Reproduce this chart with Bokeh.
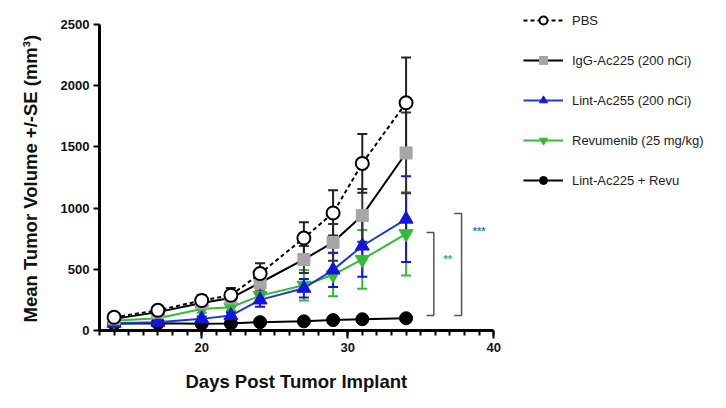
from bokeh.plotting import figure
from bokeh.models import (ColumnDataSource, Whisker, TeeHead, Legend, LegendItem,
                          SingleIntervalTicker, FixedTicker, Title)
from bokeh.core.properties import value
from bokeh.embed import file_html
from bokeh.resources import INLINE

days = [14, 17, 20, 22, 24, 27, 29, 31, 34]
pbs = [108, 165, 245, 288, 465, 755, 960, 1365, 1860]
pbs_se = [15, 20, 45, 60, 85, 130, 185, 240, 370]
igg = [95, 150, 225, 265, 390, 580, 720, 940, 1450]
igg_se = [15, 20, 40, 45, 70, 110, 150, 215, 330]
lint = [60, 68, 95, 122, 250, 345, 495, 690, 910]
lint_se = [10, 15, 20, 25, 55, 75, 140, 250, 350]
revu = [80, 100, 175, 190, 285, 370, 455, 580, 790]
revu_se = [10, 15, 30, 30, 55, 125, 175, 240, 340]
combo = [55, 60, 55, 57, 68, 75, 85, 92, 100]
combo_se = [8, 8, 8, 8, 8, 10, 12, 12, 15]

labels = ["PBS", "IgG-Ac225 (200 nCi)", "Lint-Ac255 (200 nCi)",
          "Revumenib (25 mg/kg)", "Lint-Ac225 + Revu"]

x_ticks_bounds = (13, 40)
y_ticks = [0, 500, 1000, 1500, 2000, 2500]

# significance brackets (annotation)
br_inner_x = [35.4, 35.9, 35.9, 35.4]
br_inner_y = [800, 800, 123, 123]
br_outer_x = [37.3, 37.8, 37.8, 37.3]
br_outer_y = [955, 955, 123, 123]
star_x = [36.85, 39.0]
star_y = [580, 810]
star_txt = ["**", "***"]

FONT = "Liberation Sans"

# frame: left 99px, right 718px, top 8px, bottom 330px
p = figure(width=726, height=408, x_range=(13, 55.4), y_range=(0, 2630),
           output_backend="svg", toolbar_location=None,
           min_border_left=99, min_border_right=8, min_border_top=8, min_border_bottom=78)
p.outline_line_color = None
p.xgrid.grid_line_color = None
p.ygrid.grid_line_color = None
p.background_fill_color = "white"
p.border_fill_color = "white"

p.xaxis.ticker = SingleIntervalTicker(interval=10, num_minor_ticks=10)
p.yaxis.ticker = FixedTicker(ticks=y_ticks, minor_ticks=[])
p.xaxis.bounds = x_ticks_bounds
p.yaxis.bounds = (y_ticks[0], y_ticks[-1])
for ax in (p.xaxis, p.yaxis):
    ax.axis_line_width = 3
    ax.axis_line_color = "black"
    ax.major_tick_line_width = 2
    ax.major_tick_line_color = "black"
    ax.minor_tick_line_width = 2
    ax.minor_tick_line_color = "black"
    ax.major_tick_in = 0
    ax.minor_tick_in = 0
    ax.major_label_text_font = FONT
    ax.major_label_text_font_style = "bold"
    ax.major_label_text_font_size = "13px"
    ax.major_label_text_color = "#111111"
p.xaxis.major_tick_out = 8
p.xaxis.minor_tick_out = 5
p.yaxis.major_tick_out = 6
p.yaxis.minor_tick_out = 0
p.xaxis.major_label_standoff = 4
p.yaxis.major_label_standoff = 4

xtitle = Title(text="Days Post Tumor Implant", align="left", offset=86, standoff=28,
               text_font=FONT, text_font_style="bold", text_font_size="18.5px",
               text_color="#111111")
p.add_layout(xtitle, "below")
ytitle = Title(text="Mean Tumor Volume +/-SE (mm\u00b3)", align="left", offset=8, standoff=33,
               text_font=FONT, text_font_style="bold", text_font_size="18.5px",
               text_color="#111111")
p.add_layout(ytitle, "left")

series = [
    dict(y=combo, se=combo_se, color="black", marker="circle", fill="black", size=13, dash="solid", lc="black"),
    dict(y=revu, se=revu_se, color="#33bb33", marker="inverted_triangle", fill="#33bb33", size=14, dash="solid", lc="#33bb33"),
    dict(y=lint, se=lint_se, color="#1414e0", marker="triangle", fill="#1414e0", size=14, dash="solid", lc="#1a3ad0"),
    dict(y=igg, se=igg_se, color="#a6a6a6", marker="square", fill="#a6a6a6", size=12, dash="solid", lc="black"),
    dict(y=pbs, se=pbs_se, color="black", marker="circle", fill="white", size=13, dash="4 3", lc="black"),
]
label_order = [4, 3, 2, 1, 0]
renderers = {}
for i, s in enumerate(series):
    up = [a + b for a, b in zip(s["y"], s["se"])]
    lo = [a - b for a, b in zip(s["y"], s["se"])]
    src = ColumnDataSource(dict(x=days, y=s["y"], upper=up, lower=lo))
    wcol = s["color"] if s["marker"] != "square" else "#333333"
    if s["fill"] == "white":
        wcol = "#222222"
    w = Whisker(base="x", upper="upper", lower="lower", source=src,
                line_color=wcol, line_width=2,
                upper_head=TeeHead(size=10, line_color=wcol, line_width=2),
                lower_head=TeeHead(size=10, line_color=wcol, line_width=2))
    p.add_layout(w)
    lr = p.line("x", "y", source=src, line_color=s["lc"], line_width=2, line_dash=s["dash"])
    mr = p.scatter("x", "y", source=src, marker=s["marker"], size=s["size"],
                   fill_color=s["fill"], line_color=s["color"] if s["fill"] != "white" else "black",
                   line_width=2 if s["fill"] == "white" else 1)
    renderers[label_order[i]] = [lr, mr]

p.line(br_inner_x, br_inner_y, line_color="#555555", line_width=1.5)
p.line(br_outer_x, br_outer_y, line_color="#555555", line_width=1.5)
p.text(star_x, star_y, text=star_txt, text_color=["#3cb371", "#3a7fc0"],
       text_font=value(FONT), text_font_size="11px", text_font_style="bold",
       text_align="center", text_baseline="middle")

items = [LegendItem(label=labels[k], renderers=renderers[k]) for k in range(5)]
legend = Legend(items=items, location=(424, 140), padding=0, margin=0,
                spacing=20, label_height=20, glyph_height=20, glyph_width=40,
                label_standoff=9, border_line_color=None, background_fill_alpha=0,
                label_text_font=FONT, label_text_font_size="13px", label_text_color="#222222")
p.add_layout(legend, "center")

open("out.html", "w").write(file_html(p, INLINE))
